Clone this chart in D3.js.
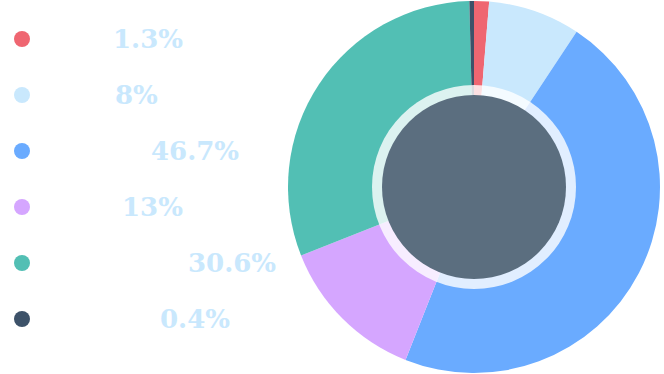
<!DOCTYPE html>
<html lang="en">
<head>
    <meta charset="UTF-8">
    <title>donut</title>
    <style>
        body { margin: 0; background: #fff; }
        svg { display: block; }
    </style>
    <script src="https://d3js.org/d3.v7.min.js"></script>
</head>
<body>
    <div id="chart"></div>
    <script>
        // 数据
        const categories = ["A", "B", "C", "D", "E", "F"];
        const values = [1.3, 8, 46.7, 13, 30.6, 0.4];
        const colors = ["#ef6671", "#c9e8fd", "#6aabff", "#d5a6ff", "#52bfb4", "#3d5269"];
        // 图例百分比的横向位置（原图中前面的标签是白色的，看不见）
        const pctX = [113, 115, 151, 122, 188, 160];

        const W = 664, H = 374;
        const svg = d3.select("#chart").append("svg")
            .attr("width", W)
            .attr("height", H);

        // 图例
        const legend = svg.append("g");
        const rowY = d3.scalePoint().domain(categories).range([39, 319]);
        categories.forEach((c, i) => {
            legend.append("circle")
                .attr("cx", 22)
                .attr("cy", rowY(c))
                .attr("r", 8)
                .attr("fill", colors[i]);
            legend.append("text")
                .attr("x", pctX[i])
                .attr("y", rowY(c))
                .attr("dy", "0.36em")
                .attr("font-family", "DejaVu Serif")
                .attr("font-weight", "bold")
                .attr("font-size", 26)
                .attr("fill", "#c9e8fd")
                .text(values[i] + "%");
        });

        // 环形图
        const cx = 474, cy = 187, R = 186;
        const g = svg.append("g").attr("transform", `translate(${cx},${cy})`);
        const pie = d3.pie().sort(null).value(d => d)(values);
        const arc = d3.arc().innerRadius(0).outerRadius(R);
        g.selectAll("path.slice")
            .data(pie)
            .join("path")
            .attr("class", "slice")
            .attr("d", arc)
            .attr("fill", (d, i) => colors[i]);

        // 中间的白色半透明圈和深色圆
        g.append("circle")
            .attr("r", 102)
            .attr("fill", "#fff")
            .attr("fill-opacity", 0.8);
        g.append("circle")
            .attr("r", 92)
            .attr("fill", "#5b6e7f");
    </script>
</body>
</html>
